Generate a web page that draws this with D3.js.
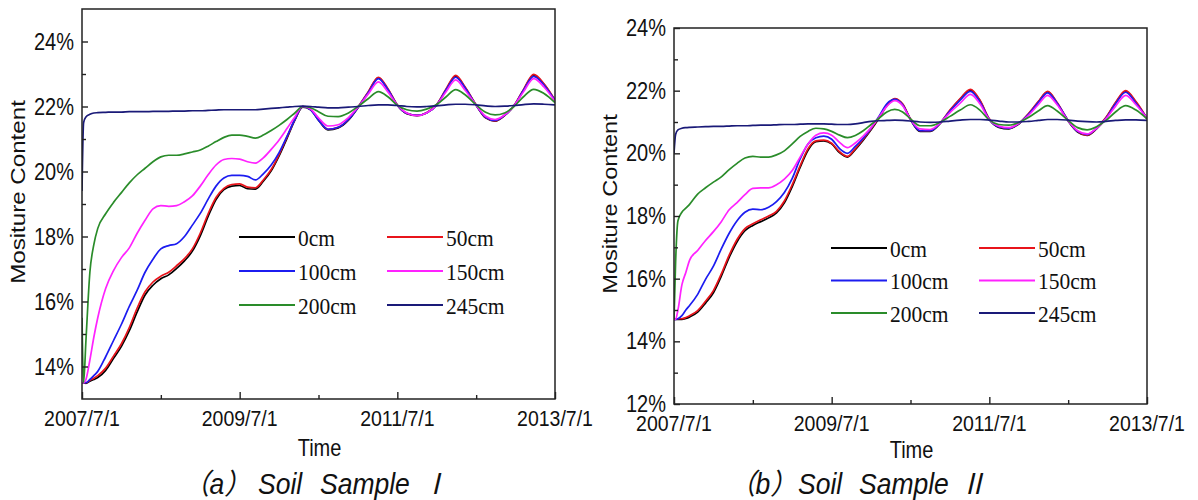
<!DOCTYPE html>
<html><head><meta charset="utf-8">
<script src="https://cdn.jsdelivr.net/npm/d3@7"></script>
<style>body{margin:0;background:#fff}svg{display:block}</style>
</head><body>
<svg id="c" width="1198" height="500"></svg>
<script>
// ---------------- DATA ----------------
// years elapsed since 2007/7/1
const timeOffsets = [0,0.02,0.05,0.1,0.15,0.2,0.3,0.4,0.5,0.6,0.7,0.8,0.9,1.0,1.1,1.2,1.3,1.4,1.5,1.6,1.7,1.8,1.9,2.0,2.1,2.2,2.3,2.4,2.5,2.6,2.7,2.8,2.9,3.0,3.12,3.25,3.38,3.5,3.63,3.76,3.88,4.0,4.12,4.25,4.37,4.5,4.62,4.74,4.86,5.0,5.12,5.24,5.36,5.48,5.6,5.73,5.86,6.0];
const xTickValues = [0,2,4,6];
const xTickLabels = ["2007/7/1","2009/7/1","2011/7/1","2013/7/1"];
const xMinorValues = [1,3,5];
const depths = ["0cm","50cm","100cm","150cm","200cm","245cm"];
const colors = ["#000000","#e8141b","#1c1cf0","#ff22ff","#2a8c2a","#1a1a78"];

// Soil Sample I (moisture %, one value per timeOffsets entry)
const sampleI_0cm = [13.5,13.5,13.48,13.55,13.6,13.66,
 13.88,14.25,14.62,15.1,15.68,16.2,16.5,16.7,16.82,17.02,17.25,17.55,18.02,18.62,19.14,19.44,19.55,19.57,19.47,19.46,19.7,20.02,20.48,21.02,21.58,21.98,21.9,
 21.58,21.28,21.34,21.58,21.96,22.43,22.88,22.52,22.04,21.78,21.72,21.8,22.05,22.52,22.93,22.58,22.04,21.65,21.55,21.72,22.02,22.5,22.96,22.68,22.18];
const sampleI_50cm = [13.5,13.5,13.5,13.58,13.64,13.72,
 13.95,14.32,14.7,15.2,15.8,16.3,16.6,16.78,16.9,17.1,17.32,17.62,18.1,18.7,19.2,19.48,19.6,19.62,19.52,19.5,19.74,20.06,20.52,21.06,21.6,22.0,21.92,
 21.6,21.3,21.36,21.6,21.98,22.45,22.9,22.55,22.05,21.79,21.73,21.81,22.06,22.55,22.96,22.6,22.05,21.66,21.56,21.73,22.03,22.52,22.99,22.7,22.2];
const sampleI_100cm = [13.5,13.5,13.5,13.6,13.72,13.85,
 14.3,14.8,15.3,15.85,16.35,16.9,17.3,17.62,17.72,17.78,18.0,18.35,18.71,19.15,19.55,19.8,19.88,19.88,19.85,19.74,19.93,20.2,20.58,21.08,21.6,22.0,21.9,
 21.58,21.3,21.36,21.6,21.97,22.42,22.86,22.52,22.04,21.79,21.73,21.8,22.05,22.52,22.9,22.57,22.04,21.67,21.57,21.73,22.02,22.5,22.93,22.66,22.18];
const sampleI_150cm = [13.5,13.5,13.6,14.2,14.9,15.5,
 16.4,16.95,17.35,17.65,18.1,18.5,18.85,18.95,18.93,18.95,19.07,19.25,19.55,19.9,20.2,20.37,20.4,20.38,20.3,20.26,20.42,20.68,20.97,21.32,21.68,22.0,21.92,
 21.65,21.4,21.44,21.66,21.98,22.38,22.76,22.45,22.04,21.8,21.72,21.8,22.05,22.46,22.82,22.5,22.04,21.7,21.6,21.74,22.02,22.45,22.86,22.6,22.16];
const sampleI_200cm = [15.5,13.5,14.8,16.9,17.75,18.25,
 18.7,19.05,19.35,19.65,19.9,20.1,20.3,20.45,20.5,20.5,20.54,20.6,20.66,20.78,20.92,21.05,21.12,21.12,21.08,21.03,21.12,21.26,21.42,21.6,21.8,22.0,21.96,
 21.84,21.7,21.69,21.8,22.0,22.24,22.46,22.3,22.04,21.9,21.86,21.92,22.06,22.3,22.52,22.36,22.05,21.82,21.74,21.8,22.0,22.3,22.53,22.4,22.12];
const sampleI_245cm = [19.4,21.5,21.68,21.76,21.8,21.81,
 21.82,21.83,21.83,21.84,21.84,21.84,21.85,21.85,21.85,21.86,21.86,21.87,21.87,21.88,21.89,21.9,21.9,21.9,21.9,21.9,21.92,21.94,21.96,21.98,22.0,22.01,22.0,
 21.98,21.96,21.96,21.98,22.0,22.03,22.05,22.05,22.03,22.0,21.99,22.0,22.02,22.05,22.07,22.07,22.05,22.02,22.0,22.01,22.03,22.06,22.08,22.07,22.05];

// Soil Sample II
const sampleII_0cm = [14.7,14.7,14.7,14.7,14.73,14.78,
 14.93,15.22,15.55,16.08,16.68,17.18,17.53,17.7,17.82,17.94,18.1,18.42,18.94,19.55,20.1,20.37,20.4,20.3,20.02,19.88,20.12,20.42,20.75,21.12,21.52,21.73,21.56,
 21.08,20.7,20.7,20.96,21.36,21.73,22.02,21.68,21.08,20.83,20.78,20.93,21.26,21.63,21.96,21.6,21.03,20.68,20.57,20.78,21.13,21.6,21.98,21.63,21.1];
const sampleII_50cm = [14.72,14.72,14.72,14.72,14.76,14.82,
 14.98,15.28,15.62,16.15,16.75,17.25,17.6,17.75,17.88,18.0,18.15,18.48,19.0,19.6,20.15,20.4,20.42,20.32,20.05,19.9,20.15,20.45,20.78,21.15,21.55,21.75,21.58,
 21.1,20.72,20.72,20.98,21.38,21.75,22.04,21.7,21.1,20.85,20.8,20.95,21.28,21.65,21.98,21.62,21.05,20.7,20.58,20.8,21.15,21.62,22.0,21.65,21.12];
const sampleII_100cm = [14.7,14.7,14.72,14.82,15.0,15.15,
 15.5,15.98,16.4,16.95,17.45,17.85,18.12,18.22,18.2,18.28,18.46,18.75,19.2,19.82,20.3,20.5,20.55,20.45,20.15,20.0,20.22,20.48,20.8,21.18,21.58,21.72,21.55,
 21.08,20.72,20.72,20.98,21.35,21.7,21.98,21.65,21.08,20.85,20.8,20.95,21.25,21.62,21.93,21.6,21.05,20.7,20.6,20.8,21.12,21.58,21.95,21.6,21.12];
const sampleII_150cm = [14.7,14.7,15.0,15.8,16.2,16.6,
 16.9,17.22,17.5,17.82,18.2,18.43,18.68,18.88,18.9,18.9,19.0,19.18,19.45,19.88,20.3,20.58,20.65,20.58,20.35,20.18,20.33,20.55,20.82,21.15,21.5,21.68,21.52,
 21.08,20.78,20.76,20.98,21.3,21.6,21.88,21.58,21.07,20.87,20.82,20.95,21.22,21.55,21.85,21.55,21.04,20.72,20.62,20.8,21.1,21.5,21.85,21.55,21.12];
const sampleII_200cm = [14.7,16.5,17.85,18.12,18.25,18.38,
 18.7,18.9,19.08,19.25,19.48,19.68,19.85,19.9,19.88,19.88,19.95,20.08,20.3,20.54,20.7,20.8,20.78,20.7,20.58,20.5,20.57,20.72,20.92,21.12,21.32,21.4,21.32,
 21.1,20.88,20.88,21.0,21.18,21.38,21.55,21.38,21.06,20.92,20.9,20.98,21.15,21.35,21.52,21.35,21.05,20.82,20.75,20.85,21.05,21.32,21.52,21.38,21.1];
const sampleII_245cm = [20.0,20.6,20.75,20.8,20.82,20.83,
 20.84,20.85,20.86,20.86,20.87,20.88,20.88,20.89,20.9,20.9,20.91,20.92,20.92,20.93,20.94,20.94,20.94,20.93,20.92,20.92,20.94,20.98,21.02,21.04,21.05,21.06,21.05,
 21.03,21.0,20.99,21.0,21.03,21.06,21.08,21.08,21.06,21.03,21.0,21.0,21.02,21.05,21.08,21.08,21.06,21.03,21.01,21.0,21.02,21.05,21.07,21.07,21.05];

const yTicksI = [14,16,18,20,22,24];
const yTickLabelsI = ["14%","16%","18%","20%","22%","24%"];
const yMinorI = [15,17,19,21,23];
const yTicksII = [12,14,16,18,20,22,24];
const yTickLabelsII = ["12%","14%","16%","18%","20%","22%","24%"];
const yMinorII = [13,15,17,19,21,23];
const yTitle = "Mositure Content";
const xTitle = "Time";

// ---------------- LAYOUT ----------------
const panels = [
 {series:[sampleI_0cm,sampleI_50cm,sampleI_100cm,sampleI_150cm,sampleI_200cm,sampleI_245cm],
  left:82,right:555,top:9,bottom:399,yDomain:[13,25],yTicks:yTicksI,yLabels:yTickLabelsI,yMinor:yMinorI,
  legX:239,legY:237,legRow:34,legCol:148,yTitleX:25,yTitleY:192,yTitleSize:21,timeY:448,
  cap:[{t:"（a）",x:183},{t:"Soil",x:258},{t:"Sample",x:320},{t:"Ⅰ",x:422}]},
 {series:[sampleII_0cm,sampleII_50cm,sampleII_100cm,sampleII_150cm,sampleII_200cm,sampleII_245cm],
  left:674,right:1147,top:28,bottom:404,yDomain:[12,24],yTicks:yTicksII,yLabels:yTickLabelsII,yMinor:yMinorII,
  legX:831,legY:248,legRow:32.5,legCol:148,yTitleX:617,yTitleY:204,yTitleSize:20.5,timeY:450,
  cap:[{t:"（b）",x:729},{t:"Soil",x:798},{t:"Sample",x:859},{t:"Ⅱ",x:960}]}
];

const svg = d3.select("#c");
const SANS = "'Liberation Sans', Arial, Helvetica, sans-serif";
const SERIF = "'Liberation Serif', 'Times New Roman', serif";
const SY = 1.15;

panels.forEach((p, pi) => {
  const x = d3.scaleLinear().domain([0,6]).range([p.left,p.right]);
  const y = d3.scaleLinear().domain(p.yDomain).range([p.bottom,p.top]);
  const g = svg.append("g");

  const clipId = "clip"+pi;
  svg.append("clipPath").attr("id",clipId).append("rect")
    .attr("x",p.left).attr("y",p.top).attr("width",p.right-p.left).attr("height",p.bottom-p.top);

  // lines
  const line = d3.line().x((d,i)=>x(timeOffsets[i])).y(d=>y(d)).curve(d3.curveMonotoneX);
  g.append("g").attr("clip-path",`url(#${clipId})`)
    .selectAll("path").data(p.series).join("path")
    .attr("d",line).attr("fill","none")
    .attr("stroke",(d,i)=>colors[i]).attr("stroke-width",1.7).attr("stroke-linejoin","round");

  // axes ticks (inward)
  const ax = g.append("g").attr("transform",`translate(0,${p.bottom})`)
    .call(d3.axisBottom(x).tickValues(xTickValues).tickSize(-7).tickFormat(""));
  const axm = g.append("g").attr("transform",`translate(0,${p.bottom})`)
    .call(d3.axisBottom(x).tickValues(xMinorValues).tickSize(-4).tickFormat(""));
  const ay = g.append("g").attr("transform",`translate(${p.left},0)`)
    .call(d3.axisLeft(y).tickValues(p.yTicks).tickSize(-6).tickFormat(""));
  const aym = g.append("g").attr("transform",`translate(${p.left},0)`)
    .call(d3.axisLeft(y).tickValues(p.yMinor).tickSize(-4).tickFormat(""));
  [ax,axm,ay,aym].forEach(a=>{a.select(".domain").remove(); a.selectAll("line").attr("stroke","#222").attr("stroke-width",1.4);});

  // frame
  g.append("rect").attr("x",p.left).attr("y",p.top).attr("width",p.right-p.left).attr("height",p.bottom-p.top)
    .attr("fill","none").attr("stroke","#222").attr("stroke-width",1.5);

  // x labels
  g.selectAll("text.xl").data(xTickValues).join("text").attr("class","xl")
    .attr("transform",d=>`translate(${x(d)},${p.bottom+19}) scale(1,${SY})`)
    .attr("text-anchor","middle").attr("dominant-baseline","central")
    .style("font-family",SANS).style("font-size","19.5px").attr("fill","#111")
    .text((d,i)=>xTickLabels[i]);
  // y labels
  g.selectAll("text.yl").data(p.yTicks).join("text").attr("class","yl")
    .attr("transform",d=>`translate(${p.left-8},${y(d)}) scale(1,${SY})`)
    .attr("text-anchor","end").attr("dominant-baseline","central")
    .style("font-family",SANS).style("font-size","20px").attr("fill","#111")
    .text((d,i)=>p.yLabels[i]);

  // titles
  g.append("text").attr("transform",`translate(${p.yTitleX},${p.yTitleY}) rotate(-90) scale(${SY},1)`)
    .attr("text-anchor","middle").style("font-family",SANS).style("font-size",p.yTitleSize+"px").attr("fill","#111")
    .text(yTitle);
  g.append("text").attr("transform",`translate(${(p.left+p.right)/2+1},${p.timeY}) scale(1,1.2)`)
    .attr("text-anchor","middle").attr("dominant-baseline","central")
    .style("font-family",SANS).style("font-size","20px").attr("fill","#111").text(xTitle);

  // legend
  const leg = g.selectAll("g.leg").data(depths).join("g").attr("class","leg")
    .attr("transform",(d,i)=>`translate(${p.legX + (i%2)*p.legCol},${p.legY + Math.floor(i/2)*p.legRow})`);
  leg.append("line").attr("x1",0).attr("x2",56).attr("y1",0).attr("y2",0)
    .attr("stroke",(d,i)=>colors[i]).attr("stroke-width",1.8);
  leg.append("text").attr("transform",`translate(59,1) scale(1,1.12)`)
    .attr("dominant-baseline","central")
    .style("font-family",SERIF).style("font-size","21.5px").attr("fill","#111").text(d=>d);

  // caption
  const cap = g.append("text").attr("transform",`translate(0,484) scale(1,1.08)`)
    .attr("dominant-baseline","central")
    .style("font-family",SANS+", 'Noto Sans CJK SC'").style("font-size","26.5px").style("font-style","italic").attr("fill","#111");
  p.cap.forEach(c=>cap.append("tspan").attr("x",c.x).text(c.t));
});
</script>
</body></html>
